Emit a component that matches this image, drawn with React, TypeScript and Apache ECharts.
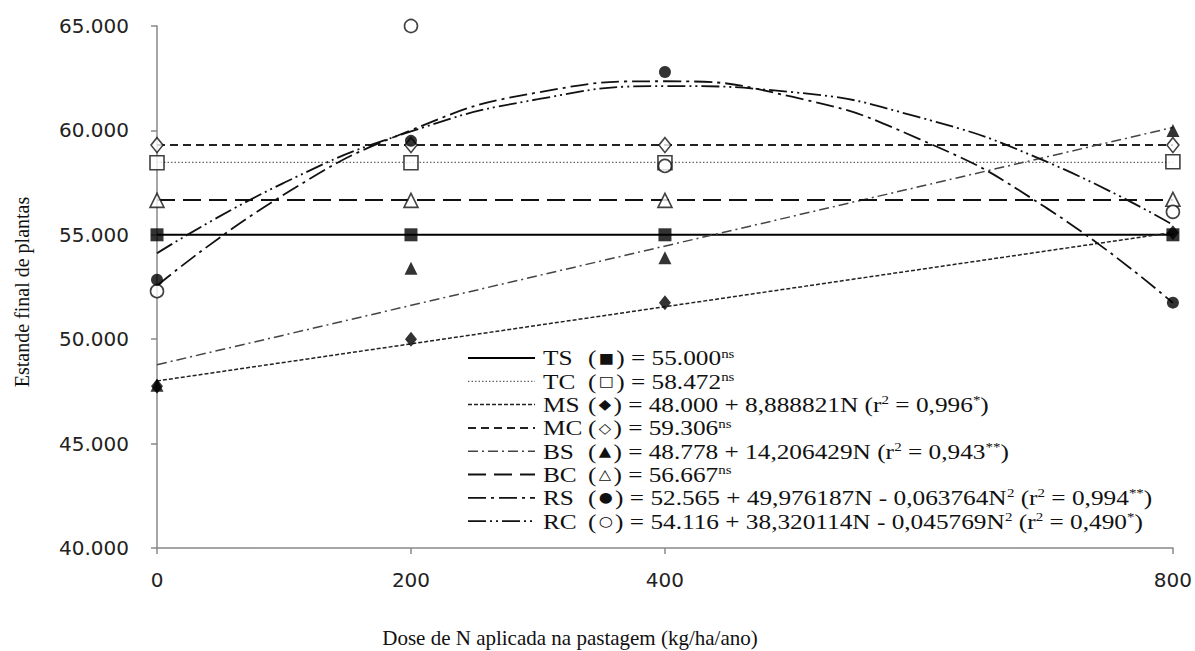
import React, { useEffect, useRef } from "react";
import * as echarts from "echarts";

// ---- data (plants/ha) ----
const doses = [0, 200, 400, 800];
const doseTicks = [0, 200, 400, 800];

const tsPoints = [55000, 55000, 55000, 55000];
const tcPoints = [58450, 58450, 58450, 58500];
const msPoints = [47750, 50000, 51750, 55100];
const mcPoints = [59300, 59300, 59300, 59300];
const bsPoints = [47800, 53400, 53900, 60000];
const bcPoints = [56650, 56650, 56650, 56700];
const rsPoints = [52850, 59500, 62800, 51750];
const rcPoints = [52300, 65000, 58300, 56100];

// fitted lines
const flatX = [0, 800];
const tsFit = [55000, 55000];
const tcFit = [58472, 58472];
const mcFit = [59306, 59306];
const bcFit = [56667, 56667];
const msFit = [48000, 55111];
const bsFit = [48778, 60143];
const curveX = [0, 100, 200, 300, 400, 500, 600, 700, 800];
const rsFit = [52565, 56925, 60010, 61819, 62353, 61612, 59596, 56304, 51737];
const rcFit = [54116, 57490, 59949, 61493, 62121, 61834, 60631, 58513, 55480];

// legend texts
const legendCodes = ["TS", "TC", "MS", "MC", "BS", "BC", "RS", "RC"];
const legendEquations = [
  "({m|■}) = 55.000{s|ns}",
  "({m|□}) = 58.472{s|ns}",
  "({m|◆}) = 48.000 + 8,888821N (r{s|2} = 0,996{s|*})",
  "({m|◇}) = 59.306{s|ns}",
  "({m|▲}) = 48.778 + 14,206429N (r{s|2} = 0,943{s|**})",
  "({m|△}) = 56.667{s|ns}",
  "({m|●}) = 52.565 + 49,976187N - 0,063764N{s|2} (r{s|2} = 0,994{s|**})",
  "({m|○}) = 54.116 + 38,320114N - 0,045769N{s|2} (r{s|2} = 0,490{s|*})",
];

const xTitle = "Dose de N aplicada na pastagem (kg/ha/ano)";
const yTitle = "Estande final de plantas";

const pair = (xs: number[], ys: number[]) => xs.map((x, i) => [x, ys[i]]);

const SERIF = "'Liberation Serif', 'Times New Roman', serif";
const SANS = "'DejaVu Sans', Verdana, sans-serif";

const styles = [
  { color: "#000", width: 2, type: "solid" as any },
  { color: "#666", width: 1.2, type: [1.5, 2] },
  { color: "#222", width: 1.5, type: [4, 2] },
  { color: "#222", width: 2, type: [8, 5] },
  { color: "#444", width: 1.5, type: [10, 4, 2, 4] },
  { color: "#111", width: 2, type: [18, 8] },
  { color: "#111", width: 1.8, type: [18, 5, 3, 5] },
  { color: "#111", width: 1.8, type: [18, 4, 2, 4, 2, 4] },
];

export default function App() {
  const ref = useRef<HTMLDivElement>(null);
  useEffect(() => {
    document.body.style.margin = "0";
    const chart = echarts.init(ref.current!, null, { renderer: "svg" });

    const fits = [
      pair(flatX, tsFit),
      pair(flatX, tcFit),
      pair(flatX, msFit),
      pair(flatX, mcFit),
      pair(flatX, bsFit),
      pair(flatX, bcFit),
      pair(curveX, rsFit),
      pair(curveX, rcFit),
    ];
    const fitSeries = fits.map((d, i) => ({
      type: "line",
      name: legendCodes[i] + " fit",
      data: d,
      showSymbol: false,
      symbol: "none",
      smooth: i >= 6,
      lineStyle: { color: styles[i].color, width: styles[i].width, type: styles[i].type },
      z: 2,
    }));

    const pts = [tsPoints, tcPoints, msPoints, mcPoints, bsPoints, bcPoints, rsPoints, rcPoints];
    const symbols = ["rect", "rect", "diamond", "diamond", "triangle", "triangle", "circle", "circle"];
    const sizes: any[] = [13, 14, [12, 15], [12, 15], 13, 14, 12, 13];
    const pointSeries = pts.map((p, i) => {
      const filled = i % 2 === 0;
      return {
        type: "scatter",
        name: legendCodes[i],
        data: pair(doses, p),
        symbol: symbols[i],
        symbolSize: sizes[i],
        itemStyle: filled
          ? { color: "#000" }
          : { color: "#fff", borderColor: "#111", borderWidth: 1.6 },
        z: filled ? 4 : 3,
      };
    });

    const rowY0 = 358;
    const rowStep = 23.3;
    const FS = 22;
    const SX = 1.15;
    const legendGraphics: any[] = [];
    legendCodes.forEach((code, i) => {
      const y = rowY0 + i * rowStep;
      legendGraphics.push({
        type: "line",
        shape: { x1: 468, y1: y, x2: 535, y2: y },
        style: {
          stroke: styles[i].color,
          lineWidth: styles[i].width,
          lineDash: Array.isArray(styles[i].type) ? styles[i].type : null,
        },
        z: 100,
      });
      legendGraphics.push({
        type: "text",
        x: 543,
        y,
        scaleX: SX,
        style: {
          text: code,
          fontFamily: SERIF,
          fontSize: FS,
          lineHeight: FS,
          fill: "#111",
          verticalAlign: "middle",
        },
        z: 100,
      });
      legendGraphics.push({
        type: "text",
        x: 588,
        y,
        scaleX: SX,
        style: {
          text: legendEquations[i],
          fontFamily: SERIF,
          fontSize: FS,
          lineHeight: FS,
          fill: "#111",
          verticalAlign: "middle",
          rich: {
            s: {
              fontFamily: SERIF,
              fontSize: 13,
              lineHeight: 13,
              verticalAlign: "top",
              fill: "#111",
            },
            m: {
              fontFamily: "'DejaVu Sans', sans-serif",
              fontSize: 14,
              lineHeight: FS,
              padding: [0, 2, 0, 2],
              fill: "#111",
            },
          },
        },
        z: 100,
      });
    });

    chart.setOption({
      animation: false,
      backgroundColor: "#fff",
      grid: { left: 157, right: 19, top: 26, bottom: 103, containLabel: false },
      xAxis: {
        type: "value",
        min: 0,
        max: 800,
        interval: 200,
        axisLine: { show: true, lineStyle: { color: "#888", width: 1.5 } },
        axisTick: {
          show: true,
          length: 6,
          customValues: doseTicks,
          lineStyle: { color: "#888", width: 1.5 },
        },
        axisLabel: {
          customValues: doseTicks,
          margin: 22,
          fontFamily: SANS,
          fontSize: 20,
          color: "#222",
        },
        splitLine: { show: false },
      },
      yAxis: {
        type: "value",
        min: 40000,
        max: 65000,
        interval: 5000,
        axisLine: { show: true, lineStyle: { color: "#888", width: 1.5 } },
        axisTick: { show: true, length: 6, lineStyle: { color: "#888", width: 1.5 } },
        axisLabel: {
          margin: 28,
          fontFamily: SANS,
          fontSize: 20,
          color: "#222",
          formatter: (v: number) =>
            `${Math.floor(v / 1000)}.${String(Math.round(v % 1000)).padStart(3, "0")}`,
        },
        splitLine: { show: false },
      },
      graphic: [
        {
          type: "text",
          x: 570,
          y: 638,
          style: {
            text: xTitle,
            fontFamily: SERIF,
            fontSize: 21,
            fill: "#111",
            align: "center",
            verticalAlign: "middle",
          },
        },
        {
          type: "text",
          x: 22,
          y: 292,
          rotation: Math.PI / 2,
          style: {
            text: yTitle,
            fontFamily: SERIF,
            fontSize: 20,
            fill: "#111",
            align: "center",
            verticalAlign: "middle",
          },
        },
        ...legendGraphics,
      ],
      series: [...fitSeries, ...pointSeries],
    });
    return () => chart.dispose();
  }, []);
  return (
    <div
      ref={ref}
      style={{ position: "fixed", left: 0, top: 0, width: 1195, height: 651 }}
    />
  );
}
